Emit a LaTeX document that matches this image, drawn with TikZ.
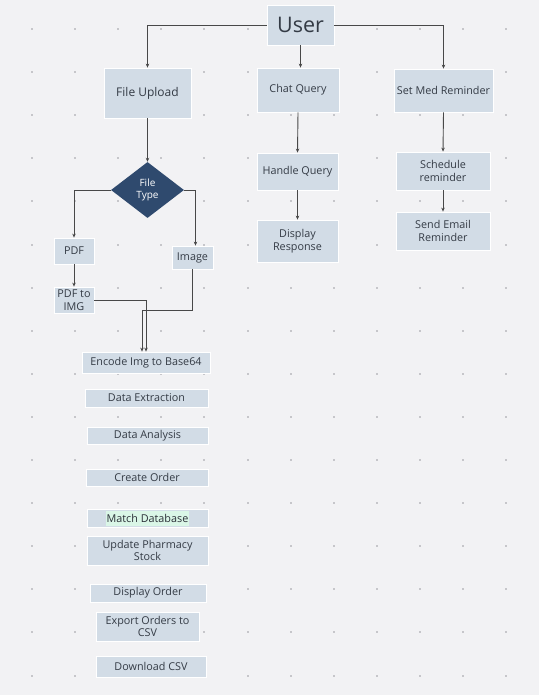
\documentclass[tikz,border=0pt]{standalone}
\usepackage{fontspec}
\setmainfont{Open Sans}
\usetikzlibrary{arrows.meta,shapes.geometric,calc}

\definecolor{bg}{HTML}{F2F2F4}
\definecolor{boxfill}{HTML}{D2DCE6}
\definecolor{navy}{HTML}{2F4A6E}
\definecolor{ink}{HTML}{343B45}
\definecolor{wire}{HTML}{484848}
\definecolor{dotc}{HTML}{C6C6CA}
\definecolor{hl}{HTML}{DAF6E7}

\tikzset{
  stepbox/.style={draw=white, line width=0.8pt, fill=boxfill, text=ink,
    font=\fontsize{10.8}{12.6}\selectfont, align=center, inner sep=0pt},
  decision/.style={diamond, fill=navy, text=white, align=center, inner sep=0pt,
    font=\fontsize{10}{12}\selectfont},
  link/.style={draw=wire, line width=0.9pt, -{Stealth[length=4pt,width=3.5pt]}},
}

\begin{document}
\begin{tikzpicture}[x=1pt,y=-1pt]
  % canvas and dotted grid
  \fill[bg] (0,0) rectangle (539,695);
  \useasboundingbox (0,0) rectangle (539,695);
  \foreach \i in {0,...,11}{
    \foreach \j in {0,...,15}{
      \fill[dotc] ({32+43.1*\i-1},{29+43.1*\j-1}) rectangle ++(2,2);
    }
  }

  % top row
  \node[stepbox, minimum width=67, minimum height=40, font=\fontsize{21.5}{25}\selectfont] (user) at (300.5,25) {User};
  \node[stepbox, minimum width=87, minimum height=50, font=\fontsize{12}{14}\selectfont] (upload) at (147.5,93) {File Upload};
  \node[stepbox, minimum width=82, minimum height=44] (chat) at (298,90) {Chat Query};
  \node[stepbox, minimum width=99, minimum height=43] (setmed) at (443.5,90.5) {Set Med Reminder};

  % chat branch
  \node[stepbox, minimum width=81, minimum height=37] (handle) at (297.5,171.5) {Handle Query};
  \node[stepbox, minimum width=81, minimum height=42] (display) at (297.5,241) {Display\\Response};

  % reminder branch
  \node[stepbox, minimum width=94, minimum height=38] (sched) at (443,171) {Schedule\\reminder};
  \node[stepbox, minimum width=94, minimum height=38] (email) at (443,231) {Send Email\\Reminder};

  % upload branch
  \node[decision, minimum width=73, minimum height=56] (ftype) at (147.5,190) {File\\Type};
  \node[stepbox, minimum width=40, minimum height=26] (pdf) at (74,251) {PDF};
  \node[stepbox, minimum width=41, minimum height=23] (image) at (192.5,257.5) {Image};
  \node[stepbox, minimum width=40, minimum height=26] (pdfimg) at (74,300) {PDF to\\IMG};

  \node[stepbox, minimum width=128, minimum height=21] (encode) at (146,362.5) {Encode Img to Base64};
  \node[stepbox, minimum width=123, minimum height=18] (extract) at (146.5,398) {Data Extraction};
  \node[stepbox, minimum width=121, minimum height=17] (analysis) at (147.5,435.5) {Data Analysis};
  \node[stepbox, minimum width=122, minimum height=17] (create) at (147,477.5) {Create Order};
  \node[stepbox, minimum width=121, minimum height=18] (match) at (147.5,518) {};
  \node[fill=hl, text=ink!80!black, inner xsep=1pt, inner ysep=0pt, minimum height=15,
        font=\fontsize{10.8}{12.6}\selectfont] (matchtxt) at (match) {Match Database};
  \node[stepbox, minimum width=121, minimum height=29] (update) at (147.5,550.5) {Update Pharmacy\\Stock};
  \node[stepbox, minimum width=116, minimum height=18] (dorder) at (148,593) {Display Order};
  \node[stepbox, minimum width=103, minimum height=29] (export) at (147.5,626.5) {Export Orders to\\CSV};
  \node[stepbox, minimum width=110, minimum height=21] (download) at (151,666.5) {Download CSV};

  % connectors
  \draw[link] (user.west) -| (upload.north);
  \draw[link] (user.south) -- (user.south |- chat.north);
  \draw[link] (user.east) -| (setmed.north);

  \draw[link] (chat.south) -- (handle.north);
  \draw[link] (handle.south) -- (display.north);
  \draw[link] (setmed.south) -- (sched.north);
  \draw[link] (sched.south) -- (email.north);

  \draw[link] (upload.south) -- (ftype.north);
  \draw[link] (ftype.west) -| (pdf.north);
  \draw[link] (ftype.east) -| ($(image.north)+(3,0)$);
  \draw[link] (pdf.south) -- (pdfimg.north);
  \draw[link] (pdfimg.east) -| (encode.north);
  \draw[link] (image.south) -- ++(0,41) -| ($(encode.north)+(-4,0)$);
\end{tikzpicture}
\end{document}
